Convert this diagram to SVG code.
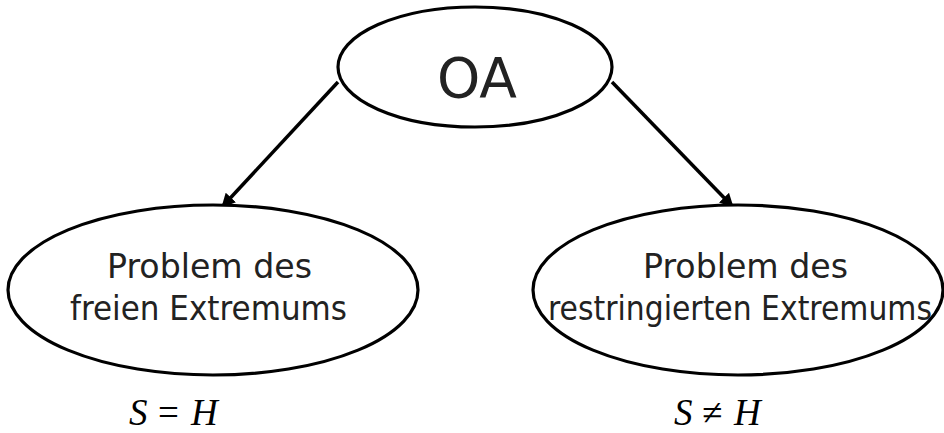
<svg xmlns="http://www.w3.org/2000/svg" width="944" height="433" viewBox="0 0 944 433">
  <style>
    .node { fill: #ffffff; stroke: #000000; stroke-width: 3.2; }
    .label { font-family: "DejaVu Sans", "Liberation Sans", sans-serif; fill: #222222; text-anchor: middle; }
    .edge { stroke: #000000; stroke-width: 3.5; fill: none; }
    .math { font-family: "Liberation Serif", "DejaVu Serif", serif; font-size: 37px; fill: #000000; }
    .mi { font-style: italic; }
  </style>
  <defs>
    <marker id="arrow" viewBox="0 0 14 14" refX="13" refY="7" markerWidth="14" markerHeight="14" markerUnits="userSpaceOnUse" orient="auto">
      <path d="M0,0 L14,7 L0,14 Z" fill="#000000"/>
    </marker>
  </defs>
  <rect width="944" height="433" fill="#ffffff"/>

  <g id="connectors">
    <line class="edge" x1="338" y1="82" x2="222" y2="207" marker-end="url(#arrow)"/>
    <line class="edge" x1="612" y1="82" x2="733" y2="207" marker-end="url(#arrow)"/>
  </g>

  <g id="node-oa">
    <ellipse class="node" cx="475" cy="67" rx="137" ry="60"/>
    <text class="label" x="477" y="97" font-size="55">OA</text>
  </g>

  <g id="node-free">
    <ellipse class="node" cx="213" cy="290" rx="205" ry="85"/>
    <text class="label" x="209.5" y="278" font-size="33" textLength="205" lengthAdjust="spacingAndGlyphs">Problem des</text>
    <text class="label" x="208.5" y="320" font-size="33" textLength="277" lengthAdjust="spacingAndGlyphs">freien Extremums</text>
  </g>

  <g id="node-restricted">
    <ellipse class="node" cx="738" cy="290" rx="205" ry="85"/>
    <text class="label" x="745.5" y="278" font-size="33" textLength="205" lengthAdjust="spacingAndGlyphs">Problem des</text>
    <text class="label" x="740" y="320" font-size="33" textLength="384" lengthAdjust="spacingAndGlyphs">restringierten Extremums</text>
  </g>

  <g id="label-equal">
    <text class="math" y="425"><tspan class="mi" x="129">S</tspan><tspan x="158">=</tspan><tspan class="mi" x="191">H</tspan></text>
  </g>
  <g id="label-notequal">
    <text class="math" y="425"><tspan class="mi" x="674">S</tspan><tspan x="702">≠</tspan><tspan class="mi" x="734">H</tspan></text>
  </g>
</svg>
